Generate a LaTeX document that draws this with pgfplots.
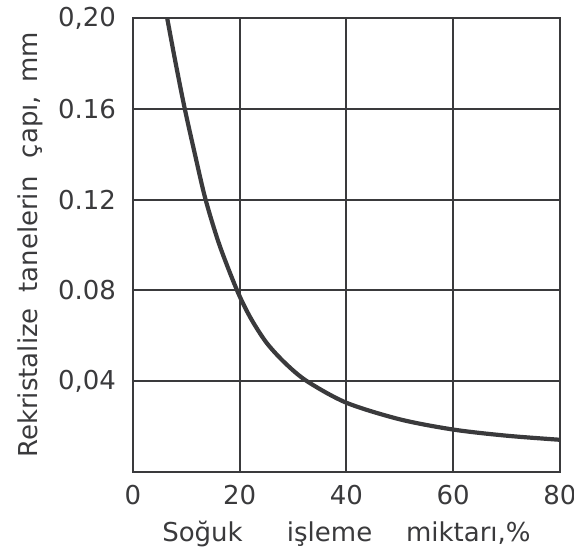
\documentclass[border=0pt]{standalone}
\usepackage{fontspec}
\setmainfont{DejaVu Sans}
\usepackage{pgfplots}
\pgfplotsset{compat=1.18}
\definecolor{ink}{HTML}{3A3A3C}
\begin{document}
\begin{tikzpicture}
\begin{axis}[
  scale only axis,
  width=213.5pt, height=227pt,
  xmin=0, xmax=80, ymin=0, ymax=0.20,
  xtick={0,20,40,60,80},
  xticklabels={0,20,40,60,80},
  ytick={0.04,0.08,0.12,0.16,0.20},
  yticklabels={{0,04},{0.08},{0.12},{0.16},{0,20}},
  grid=major,
  grid style={ink, line width=1pt},
  axis line style={ink, line width=1.1pt},
  major tick length=0pt,
  tick label style={font=\fontsize{13}{15}\selectfont, text=ink},
  xticklabel style={yshift=-3pt},
  yticklabel style={xshift=-5pt},
  xlabel={Soğuk\hspace{1.7em}işleme\hspace{1.3em}miktarı,\%},
  ylabel={Rekristalize\hspace{0.6em}tanelerin\hspace{0.7em}çapı,\hspace{0.5em}mm},
  label style={font=\fontsize{13}{15}\selectfont, text=ink},
  xlabel style={at={(rel axis cs:0.5,0)}, anchor=center, yshift=-31pt},
  every axis y label/.append style={at={(rel axis cs:0,0.5)}, anchor=center, rotate=0, yshift=51.5pt},
  clip=true,
]
\addplot[ink, line width=2.1pt, smooth, tension=0.5] coordinates {
  (6.4,0.200) (8,0.180) (9.7,0.160) (11.6,0.140) (13.6,0.120) (16.2,0.100)
  (19.5,0.080) (22,0.068) (25,0.057) (28.5,0.048) (32.6,0.040)
  (40,0.0305) (50,0.0232) (60,0.0187) (70,0.0160) (80,0.0142)
};
\coordinate (sw) at (rel axis cs:0,0);
\coordinate (ne) at (rel axis cs:1,1);
\end{axis}
\pgfresetboundingbox
\path ([shift={(-66.5pt,-40.5pt)}]sw) rectangle ([shift={(7pt,9pt)}]ne);
\end{tikzpicture}
\end{document}
